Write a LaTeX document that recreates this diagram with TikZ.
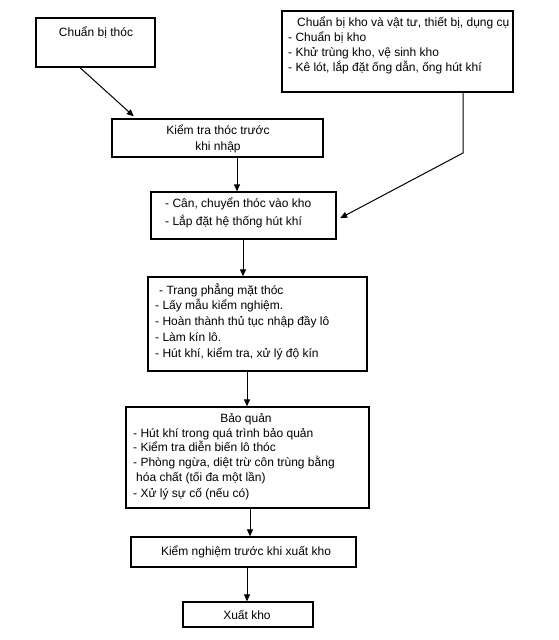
\documentclass[tikz,border=0pt]{standalone}
\usepackage{fontspec}
\setmainfont{Liberation Sans}
\usetikzlibrary{arrows.meta}
\begin{document}
\begin{tikzpicture}[x=1pt,y=-1pt,
  box/.style={draw=black,line width=1.3pt,inner sep=0pt,fill=white},
  txt/.style={inner sep=0pt,align=left,font=\fontsize{12}{15}\selectfont},
  ctxt/.style={inner sep=0pt,align=center,font=\fontsize{12}{16}\selectfont},
  arr/.style={draw=black,line width=1pt,-{Triangle[length=7pt,width=6pt]}}]
\useasboundingbox[fill=white] (0,0) rectangle (559,640);
% boxes
\node[box,minimum width=119,minimum height=49] (thoc) at (95.5,42.5) {};
\node[box,minimum width=231,minimum height=81] (kho) at (397.5,51.5) {};
\node[box,minimum width=211,minimum height=38] (kiemtra) at (217.5,138) {};
\node[box,minimum width=185,minimum height=47] (can) at (243.5,215.5) {};
\node[box,minimum width=219,minimum height=94] (trang) at (257.5,324) {};
\node[box,minimum width=243,minimum height=101] (baoquan) at (247.5,457.5) {};
\node[box,minimum width=225,minimum height=30] (kiemnghiem) at (243.5,552) {};
\node[box,minimum width=130,minimum height=25] (xuatkho) at (248,614.5) {};
% texts
\node[ctxt] (t-thoc) at (96,33) {Chuẩn bị thóc};
\node[txt,anchor=base west,font=\fontsize{12}{14.7}\selectfont] (t-kho) at (288,71) {\hspace{9pt}Chuẩn bị kho và vật tư, thiết bị, dụng cụ\\- Chuẩn bị kho\\- Khử trùng kho, vệ sinh kho\\- Kê lót, lắp đặt ống dẫn, ống hút khí};
\node[ctxt,anchor=base] (t-kiemtra) at (218,150) {Kiểm tra thóc trước\\khi nhập};
\node[txt,anchor=base west,font=\fontsize{12}{18}\selectfont] (t-can) at (165,225) {- Cân, chuyển thóc vào kho\\- Lắp đặt hệ thống hút khí};
\node[txt,anchor=base west,font=\fontsize{12}{15.7}\selectfont] (t-trang) at (155,357) {\hspace{4pt}- Trang phẳng mặt thóc\\- Lấy mẫu kiểm nghiệm.\\- Hoàn thành thủ tục nhập đầy lô\\- Làm kín lô.\\- Hút khí, kiểm tra, xử lý độ kín};
\node[txt,anchor=base] (t-bq0) at (246,422) {Bảo quản};
\node[txt,anchor=base west,font=\fontsize{12}{14.6}\selectfont] (t-bq) at (133,481) {- Hút khí trong quá trình bảo quản\\- Kiểm tra diễn biến lô thóc\\- Phòng ngừa, diệt trừ côn trùng bằng\\\hspace{3pt}hóa chất (tối đa một lần)};
\node[txt,anchor=base west] (t-bq2) at (133,497) {- Xử lý sự cố (nếu có)};
\node[ctxt,anchor=base] (t-kn) at (246,555) {Kiểm nghiệm trước khi xuất kho};
\node[ctxt,anchor=base] (t-xk) at (247,619) {Xuất kho};
% connectors
\draw[arr,shorten >=3pt] (thoc.south -| 80,0) -- (kiemtra.north -| 136,0);
\coordinate (bend) at (463,153);
\draw[arr,shorten >=4pt] (kho.south -| bend) -- (bend) -- ([yshift=-4.5pt]can.east);
\draw[arr] (kiemtra.south -| 237,0) -- (can.north -| 237,0);
\draw[arr] (can.south -| 243,0) -- (trang.north -| 243,0);
\draw[arr] (trang.south -| 247,0) -- (baoquan.north -| 247,0);
\draw[arr] (baoquan.south -| 250,0) -- (kiemnghiem.north -| 250,0);
\draw[arr] (kiemnghiem.south -| 247,0) -- (xuatkho.north -| 247,0);
\end{tikzpicture}
\end{document}
